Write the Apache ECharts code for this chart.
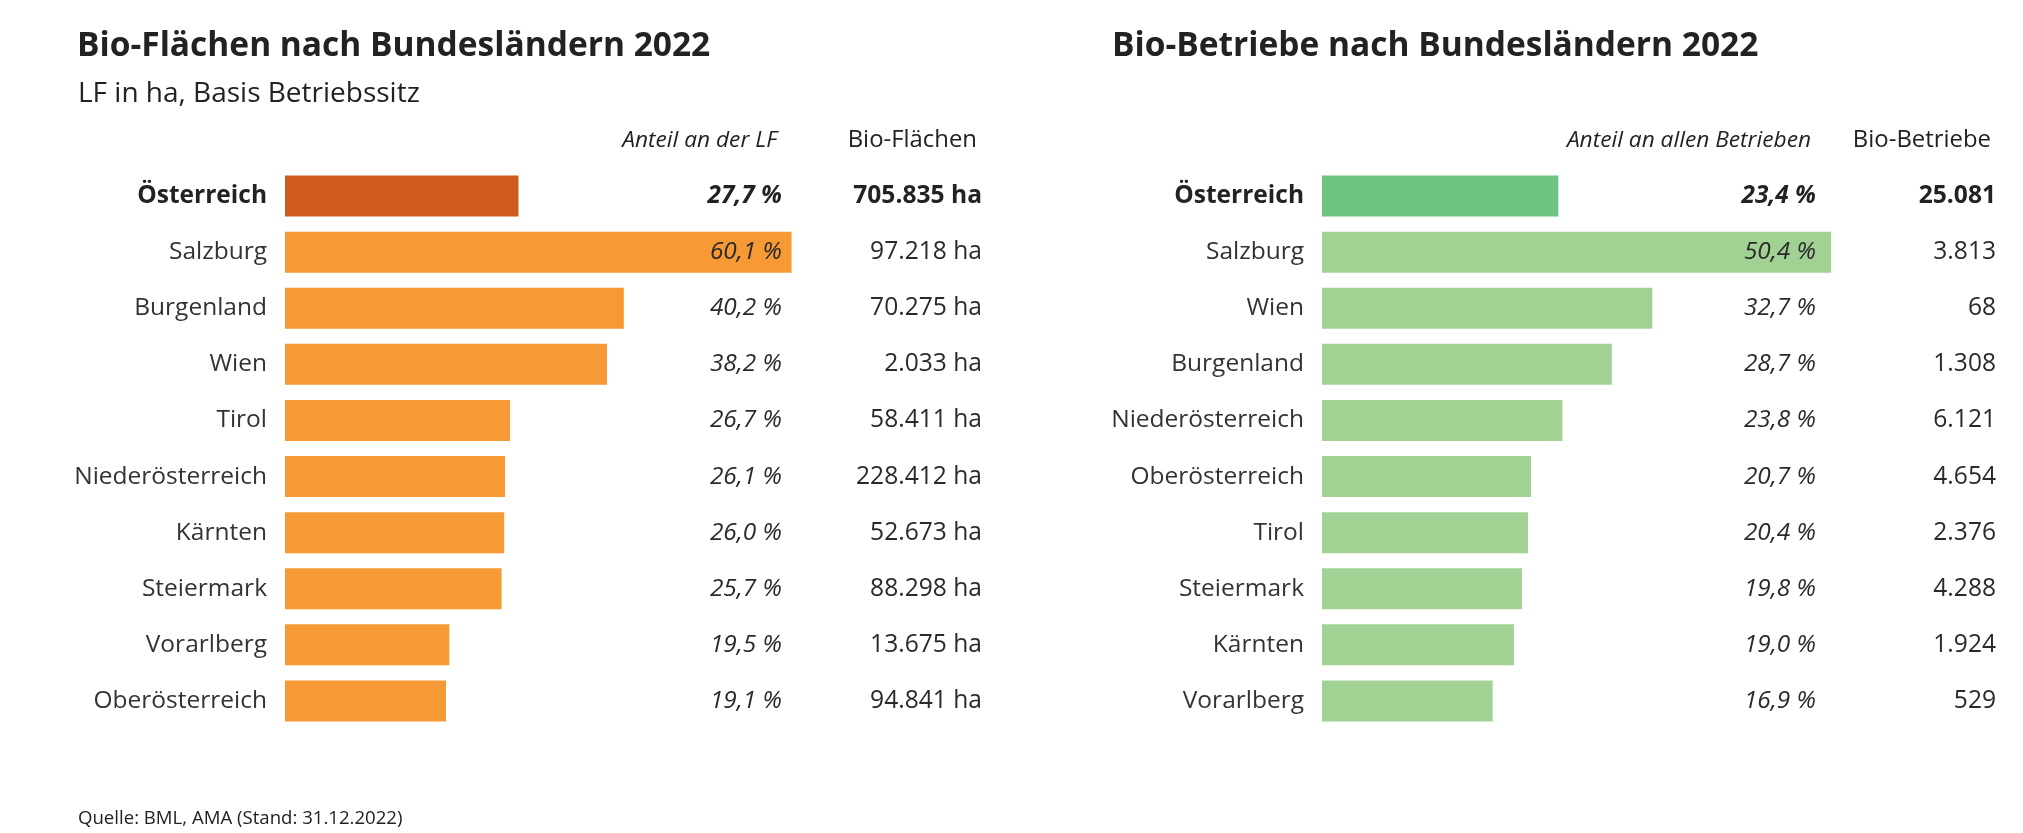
<!DOCTYPE html>
<html><head><meta charset="utf-8">
<script src="https://cdn.jsdelivr.net/npm/echarts@6/dist/echarts.min.js"></script>
<style>html,body{margin:0;padding:0;background:#fff}#c{width:2023px;height:833px}</style>
</head><body><div id="c"></div>
<script>
// Left chart: Bio-Flächen
const catsL = ['Österreich','Salzburg','Burgenland','Wien','Tirol','Niederösterreich','Kärnten','Steiermark','Vorarlberg','Oberösterreich'];
const shareL = [27.7, 60.1, 40.2, 38.2, 26.7, 26.1, 26.0, 25.7, 19.5, 19.1];
const areaL = ['705.835 ha','97.218 ha','70.275 ha','2.033 ha','58.411 ha','228.412 ha','52.673 ha','88.298 ha','13.675 ha','94.841 ha'];
// Right chart: Bio-Betriebe
const catsR = ['Österreich','Salzburg','Wien','Burgenland','Niederösterreich','Oberösterreich','Tirol','Steiermark','Kärnten','Vorarlberg'];
const shareR = [23.4, 50.4, 32.7, 28.7, 23.8, 20.7, 20.4, 19.8, 19.0, 16.9];
const farmsR = ['25.081','3.813','68','1.308','6.121','4.654','2.376','4.288','1.924','529'];

const FONT = 'Open Sans';
const TXT = '#222222';
const fmtPct = v => v.toFixed(1).replace('.', ',') + ' %';

// font size that makes a text reach the width measured in the reference
const cv = document.createElement('canvas').getContext('2d');
function fit(text, target, weight, style){
  cv.font = (style||'normal') + ' ' + (weight||'normal') + ' 100px "' + FONT + '"';
  return Math.round(100 * target / cv.measureText(text).width * 10) / 10;
}
const sTitle = fit('Bio-Flächen nach Bundesländern 2022', 633, 'bold');
const sSub = fit('LF in ha, Basis Betriebssitz', 342);
const sHeadI = fit('Anteil an allen Betrieben', 244, 'normal', 'italic');
const sHead = fit('Bio-Betriebe', 138);
const sCat = fit('Niederösterreich', 193);
const sVal = fit('228.412 ha', 126);
const sPct = fit('26,1 %', 72, 'normal', 'italic');
const sFoot = fit('Quelle: BML, AMA (Stand: 31.12.2022)', 324);

const chart = echarts.init(document.getElementById('c'), null, {renderer:'canvas'});

function rich(size, color){
  return {
    b:{fontFamily:FONT,fontWeight:'bold',fontSize:size,color:TXT},
    n:{fontFamily:FONT,fontWeight:'normal',fontSize:size,color:color},
    bi:{fontFamily:FONT,fontWeight:'bold',fontStyle:'italic',fontSize:size,color:TXT},
    ni:{fontFamily:FONT,fontWeight:'normal',fontStyle:'italic',fontSize:size,color:color}
  };
}
const first = (i) => i === 0;

function axesFor(gridIndex, cats, pctArr, valArr, pctMargin, valMargin){
  return [
    { type:'category', gridIndex, data:cats, inverse:true, position:'left',
      axisLine:{show:false}, axisTick:{show:false}, splitLine:{show:false},
      axisLabel:{ margin:18, formatter:(v,i)=> first(i)?'{b|'+v+'}':'{n|'+v+'}', rich:rich(sCat,'#333') } },
    { type:'category', gridIndex, data:pctArr.map(fmtPct), inverse:true, position:'right', z:10,
      axisLine:{show:false}, axisTick:{show:false}, splitLine:{show:false},
      axisLabel:{ margin:pctMargin, align:'right', formatter:(v,i)=> first(i)?'{bi|'+v+'}':'{ni|'+v+'}', rich:rich(sPct,'#2a2a2a') } },
    { type:'category', gridIndex, data:valArr, inverse:true, position:'right', z:10,
      axisLine:{show:false}, axisTick:{show:false}, splitLine:{show:false},
      axisLabel:{ margin:valMargin, align:'right', formatter:(v,i)=> first(i)?'{b|'+v+'}':'{n|'+v+'}', rich:rich(sVal,'#2a2a2a') } }
  ];
}

// grid geometry
const gTop = 168, gH = 561;
const gL = {left:285, width:590};   // max 70
const gR = {left:1322, width:606};  // max 60
const rightL = gL.left + gL.width, rightR = gR.left + gR.width;

const option = {
  backgroundColor:'#fff',
  animation:false,
  title:[
    {text:'Bio-Flächen nach Bundesländern 2022', left:72, top:41 - sTitle/2,
     textStyle:{fontFamily:FONT,fontWeight:'bold',fontSize:sTitle,color:TXT}},
    {text:'LF in ha, Basis Betriebssitz', left:73, top:89 - sSub/2,
     textStyle:{fontFamily:FONT,fontWeight:'normal',fontSize:sSub,color:TXT}},
    {text:'Anteil an der LF', right:2023-782, top:135 - sHeadI/2,
     textStyle:{fontFamily:FONT,fontStyle:'italic',fontWeight:'normal',fontSize:sHeadI,color:TXT}},
    {text:'Bio-Flächen', right:2023-982, top:135 - sHead/2,
     textStyle:{fontFamily:FONT,fontWeight:'normal',fontSize:sHead,color:TXT}},
    {text:'Bio-Betriebe nach Bundesländern 2022', left:1107, top:41 - sTitle/2,
     textStyle:{fontFamily:FONT,fontWeight:'bold',fontSize:sTitle,color:TXT}},
    {text:'Anteil an allen Betrieben', right:2023-1816, top:135 - sHeadI/2,
     textStyle:{fontFamily:FONT,fontStyle:'italic',fontWeight:'normal',fontSize:sHeadI,color:TXT}},
    {text:'Bio-Betriebe', right:2023-1996, top:135 - sHead/2,
     textStyle:{fontFamily:FONT,fontWeight:'normal',fontSize:sHead,color:TXT}},
    {text:'Quelle: BML, AMA (Stand: 31.12.2022)', left:73, top:814 - sFoot/2,
     textStyle:{fontFamily:FONT,fontWeight:'normal',fontSize:sFoot,color:TXT}}
  ],
  grid:[
    {left:gL.left, width:gL.width, top:gTop, height:gH, containLabel:false},
    {left:gR.left, width:gR.width, top:gTop, height:gH, containLabel:false}
  ],
  xAxis:[
    {type:'value', gridIndex:0, min:0, max:70, show:false},
    {type:'value', gridIndex:1, min:0, max:60, show:false}
  ],
  yAxis:[
    ...axesFor(0, catsL, shareL, areaL, 782-rightL, 982-rightL),
    ...axesFor(1, catsR, shareR, farmsR, 1816-rightR, 1996-rightR)
  ],
  series:[
    {type:'bar', xAxisIndex:0, yAxisIndex:0, barWidth:41, silent:true,
     data: shareL.map((v,i)=>({value:v, itemStyle:{color: i===0?'#CF5A1E':'#F79A35'}}))},
    {type:'bar', xAxisIndex:1, yAxisIndex:3, barWidth:41, silent:true,
     data: shareR.map((v,i)=>({value:v, itemStyle:{color: i===0?'#6FC381':'#A1D293'}}))}
  ]
};
chart.setOption(option);
</script></body></html>
